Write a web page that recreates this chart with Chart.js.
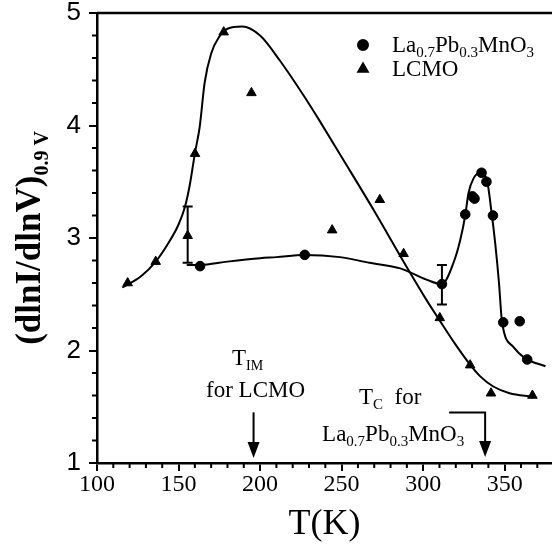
<!DOCTYPE html>
<html>
<head>
<meta charset="utf-8">
<script src="https://cdn.jsdelivr.net/npm/chart.js@4.4.0/dist/chart.umd.min.js"></script>
<style>
  html, body { margin: 0; padding: 0; background: #fff; }
  #wrap { width: 552px; height: 550px; }
</style>
</head>
<body>
<div id="wrap"><canvas id="c" width="552" height="550"></canvas></div>
<script>
// La0.7Pb0.3MnO3 measured points
let lpmT   = [163.2, 227.4, 311.5, 325.8, 330.2, 331.5, 335.8, 338.8, 342.8, 349.1, 359.2, 363.8];
let lpmVal = [2.75, 2.85, 2.59, 3.21, 3.37, 3.35, 3.58, 3.50, 3.20, 2.25, 2.26, 1.92];

// LCMO measured points
let lcmoT   = [118.8, 136.0, 155.6, 160.1, 177.7, 194.7, 244.2, 273.4, 288.0, 310.2, 328.8, 341.6, 367.0];
let lcmoVal = [2.60, 2.79, 3.02, 3.75, 4.83, 4.29, 3.07, 3.34, 2.86, 2.29, 1.87, 1.62, 1.60];

// guide curves through the data
let lpmFitT   = [155, 163, 180, 200, 210, 227, 249, 267, 286, 302, 311.5, 318.6, 322.7, 325.8, 327.8, 330.9, 335, 339, 342, 344.2, 346.5, 348.3, 355.4, 362.6, 375];
let lpmFitVal = [2.76, 2.76, 2.79, 2.82, 2.83, 2.85, 2.83, 2.78, 2.73, 2.63, 2.59, 2.78, 2.98, 3.20, 3.40, 3.53, 3.58, 3.52, 3.22, 2.95, 2.60, 2.26, 2.03, 1.93, 1.86];

let lcmoFitT   = [115.5, 127, 136, 144, 150, 154, 157, 160, 163, 166, 170, 175, 180, 189, 200, 212, 227, 237, 250, 270, 290, 302, 310, 320, 329, 335, 343, 353, 367];
let lcmoFitVal = [2.56, 2.66, 2.79, 2.96, 3.12, 3.28, 3.48, 3.75, 3.99, 4.38, 4.64, 4.79, 4.86, 4.88, 4.80, 4.58, 4.26, 4.03, 3.72, 3.24, 2.74, 2.45, 2.27, 2.05, 1.87, 1.77, 1.68, 1.62, 1.59];

// error bars
let errT    = [155.6, 311.5];
let errLow  = [2.78, 2.41];
let errHigh = [3.28, 2.76];

// axes
let xTicks = [100, 150, 200, 250, 300, 350];
let yTicks = [1, 2, 3, 4, 5];

// arrows: T_IM for LCMO, T_C for La0.7Pb0.3MnO3
let timT = 196;
let tcT = 338;

const SERIF = '"Liberation Serif", "Times New Roman", serif';

function richWidth(ctx, parts, size, sub, weight) {
    let w = 0;
    parts.forEach(p => {
        ctx.font = weight + ' ' + (p[1] ? sub : size) + 'px ' + SERIF;
        w += ctx.measureText(p[0]).width;
    });
    return w;
}

function drawRich(ctx, parts, x, y, size, sub, align, weight) {
    weight = weight || 'normal';
    let w = richWidth(ctx, parts, size, sub, weight);
    let cx = align === 'center' ? x - w / 2 : x;
    ctx.textAlign = 'left';
    ctx.textBaseline = 'alphabetic';
    parts.forEach(p => {
        ctx.font = weight + ' ' + (p[1] ? sub : size) + 'px ' + SERIF;
        ctx.fillText(p[0], cx, p[1] ? y + size * 0.22 : y);
        cx += ctx.measureText(p[0]).width;
    });
}

function arrowHead(ctx, x, y) {
    ctx.beginPath();
    ctx.moveTo(x, y);
    ctx.lineTo(x - 6, y - 16);
    ctx.lineTo(x + 6, y - 16);
    ctx.closePath();
    ctx.fill();
}

const decor = {
    id: 'decor',
    beforeDatasetsDraw(chart) {
        const ctx = chart.ctx;
        const xs = chart.scales.x, ys = chart.scales.y;
        ctx.save();
        ctx.strokeStyle = '#000';
        ctx.lineWidth = 2;
        errT.forEach((t, i) => {
            let x = xs.getPixelForValue(t);
            let y1 = ys.getPixelForValue(errLow[i]);
            let y2 = ys.getPixelForValue(errHigh[i]);
            ctx.beginPath();
            ctx.moveTo(x, y1); ctx.lineTo(x, y2);
            ctx.moveTo(x - 5, y1); ctx.lineTo(x + 5, y1);
            ctx.moveTo(x - 5, y2); ctx.lineTo(x + 5, y2);
            ctx.stroke();
        });
        ctx.restore();
    },
    afterDraw(chart) {
        const ctx = chart.ctx;
        const a = chart.chartArea;
        const xs = chart.scales.x, ys = chart.scales.y;
        ctx.save();
        ctx.strokeStyle = '#000';
        ctx.fillStyle = '#000';

        // top frame line
        ctx.lineWidth = 2.5;
        ctx.beginPath();
        ctx.moveTo(a.left, a.top);
        ctx.lineTo(552, a.top);
        ctx.stroke();

        // minor ticks
        ctx.lineWidth = 2;
        ctx.beginPath();
        for (let v = 110; v <= 375; v += 10) {
            if (v % 50 === 0) continue;
            let x = xs.getPixelForValue(v);
            ctx.moveTo(x, a.bottom); ctx.lineTo(x, a.bottom + 5);
        }
        for (let k = 1; k < 20; k++) {
            if (k % 5 === 0) continue;
            let y = ys.getPixelForValue(1 + k * 0.2);
            ctx.moveTo(a.left, y); ctx.lineTo(a.left - 5, y);
        }
        ctx.stroke();

        // y axis title
        ctx.save();
        ctx.translate(40, (a.top + a.bottom) / 2);
        ctx.rotate(-Math.PI / 2);
        drawRich(ctx, [['(dlnI/dlnV)', false], ['0.9 V', true]], 0, 0, 35, 20, 'center', 'bold');
        ctx.restore();

        // legend
        let lx = a.right - 189;
        Chart.helpers.drawPoint(ctx, {pointStyle: 'circle', radius: 5, borderWidth: 1}, lx, 45);
        ctx.fill();
        Chart.helpers.drawPoint(ctx, {pointStyle: 'triangle', radius: 5.5, borderWidth: 1}, lx, 69);
        ctx.fill();
        drawRich(ctx, [['La', false], ['0.7', true], ['Pb', false], ['0.3', true], ['MnO', false], ['3', true]], lx + 29, 52, 23, 15, 'left');
        drawRich(ctx, [['LCMO', false]], lx + 29, 76, 23, 15, 'left');

        // T_IM arrow
        ctx.lineWidth = 2;
        let ax = xs.getPixelForValue(timT);
        ctx.beginPath();
        ctx.moveTo(ax, ys.getPixelForValue(1.45));
        ctx.lineTo(ax, a.bottom - 10);
        ctx.stroke();
        arrowHead(ctx, ax, a.bottom - 5);
        drawRich(ctx, [['T', false], ['IM', true]], ax - 6, 365, 23, 14, 'center');
        drawRich(ctx, [['for LCMO', false]], ax + 2, 397, 23, 15, 'center');

        // T_C arrow
        let cx = xs.getPixelForValue(tcT);
        let cy = ys.getPixelForValue(1.45);
        ctx.beginPath();
        ctx.moveTo(cx - 36, cy);
        ctx.lineTo(cx, cy);
        ctx.lineTo(cx, a.bottom - 10);
        ctx.stroke();
        arrowHead(ctx, cx, a.bottom - 6);
        drawRich(ctx, [['T', false], ['C', true], ['  for', false]], cx - 95, 404, 23, 15, 'center');
        drawRich(ctx, [['La', false], ['0.7', true], ['Pb', false], ['0.3', true], ['MnO', false], ['3', true]], cx - 92, 441, 23, 15, 'center');

        ctx.restore();
    }
};

function pts(xs, ys) {
    return xs.map((x, i) => ({x: x, y: ys[i]}));
}

new Chart(document.getElementById('c'), {
    type: 'scatter',
    data: {
        datasets: [
            {
                label: 'La0.7Pb0.3MnO3',
                data: pts(lpmT, lpmVal),
                pointStyle: 'circle',
                pointRadius: 4.8,
                backgroundColor: '#000',
                borderColor: '#000',
                borderWidth: 1
            },
            {
                label: 'LCMO',
                data: pts(lcmoT, lcmoVal),
                pointStyle: 'triangle',
                pointRadius: 5.5,
                backgroundColor: '#000',
                borderColor: '#000',
                borderWidth: 1
            },
            {
                label: 'fit La0.7Pb0.3MnO3',
                data: pts(lpmFitT, lpmFitVal),
                showLine: true,
                pointRadius: 0,
                borderColor: '#000',
                borderWidth: 2,
                cubicInterpolationMode: 'monotone'
            },
            {
                label: 'fit LCMO',
                data: pts(lcmoFitT, lcmoFitVal),
                showLine: true,
                pointRadius: 0,
                borderColor: '#000',
                borderWidth: 2,
                cubicInterpolationMode: 'monotone'
            }
        ]
    },
    options: {
        responsive: false,
        animation: false,
        devicePixelRatio: 1,
        layout: { autoPadding: false, padding: { top: 13, right: 0, left: 0, bottom: 0 } },
        plugins: { legend: { display: false }, tooltip: { enabled: false } },
        scales: {
            x: {
                type: 'linear',
                min: 100,
                max: 379,
                afterBuildTicks: s => { s.ticks = xTicks.map(v => ({value: v})); },
                afterFit: s => { s.height = 87; s.paddingLeft = 0; s.paddingRight = 0; },
                grid: { drawOnChartArea: false, drawTicks: true, tickLength: 8, color: '#000', lineWidth: 2 },
                border: { display: true, color: '#000', width: 2.5 },
                ticks: { color: '#000', padding: 2, maxRotation: 0, font: { family: SERIF, size: 24, lineHeight: 1 } },
                title: { display: true, text: 'T(K)', color: '#000', padding: { top: 0, bottom: 4 }, font: { family: SERIF, size: 36 } }
            },
            y: {
                type: 'linear',
                min: 1,
                max: 5,
                afterBuildTicks: s => { s.ticks = yTicks.map(v => ({value: v})); },
                afterFit: s => { s.width = 97; s.paddingTop = 0; s.paddingBottom = 0; },
                grid: { drawOnChartArea: false, drawTicks: true, tickLength: 8, color: '#000', lineWidth: 2 },
                border: { display: true, color: '#000', width: 2.5 },
                ticks: { color: '#000', padding: 8, font: { family: '"Liberation Sans", Arial, sans-serif', size: 26, lineHeight: 1 } }
            }
        }
    },
    plugins: [decor]
});
</script>
</body>
</html>
